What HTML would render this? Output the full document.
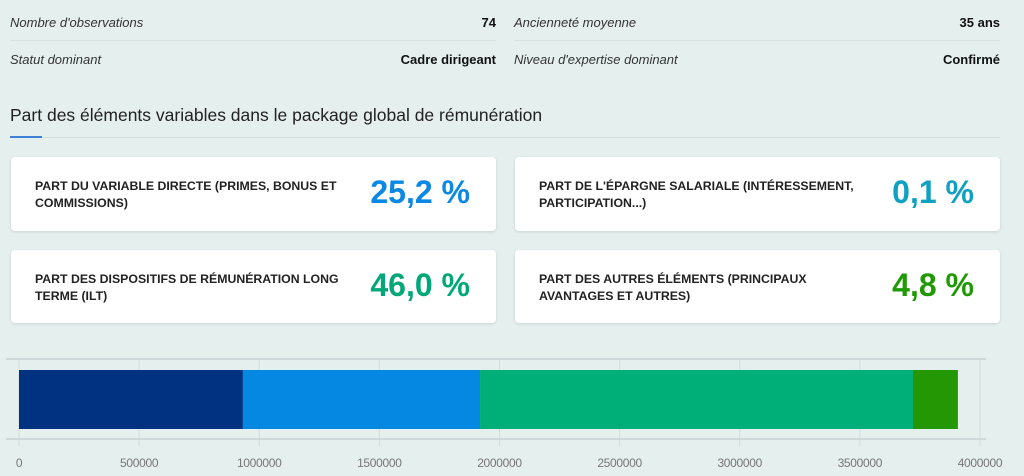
<!DOCTYPE html>
<html><head><meta charset="utf-8"><style>
body{margin:0;width:1024px;height:476px;background:#e5efee;font-family:"Liberation Sans",sans-serif;position:relative;overflow:hidden;color:#222}
.a{position:absolute}
.lab{font-style:italic;font-size:13px;color:#333}
.val{font-weight:bold;font-size:13px;color:#111;text-align:right}
.card{position:absolute;background:#fff;border-radius:4px;box-shadow:0 1px 3px rgba(0,0,0,.12)}
.ct{position:absolute;left:24px;font-weight:bold;font-size:12.3px;line-height:17px;color:#222}
.cv{position:absolute;right:26px;font-weight:bold;font-size:32px}
</style></head><body>
<div class="a lab" style="left:10px;top:15px">Nombre d'observations</div>
<div class="a val" style="left:300px;width:196px;top:15px">74</div>
<div class="a lab" style="left:514px;top:15px">Ancienneté moyenne</div>
<div class="a val" style="left:800px;width:200px;top:15px">35 ans</div>
<div class="a" style="left:10px;top:40px;width:486px;height:1px;background:#d8e2e1"></div>
<div class="a" style="left:514px;top:40px;width:486px;height:1px;background:#d8e2e1"></div>
<div class="a lab" style="left:10px;top:52px">Statut dominant</div>
<div class="a val" style="left:300px;width:196px;top:52px">Cadre dirigeant</div>
<div class="a lab" style="left:514px;top:52px">Niveau d'expertise dominant</div>
<div class="a val" style="left:800px;width:200px;top:52px">Confirmé</div>
<div class="a" style="left:10px;top:105px;font-size:17.5px;color:#222">Part des éléments variables dans le package global de rémunération</div>
<div class="a" style="left:10px;top:137px;width:990px;height:1px;background:#d6e0df"></div>
<div class="a" style="left:10px;top:136px;width:32px;height:2px;background:#3b7fd6"></div>

<div class="card" style="left:11px;top:157px;width:485px;height:74px">
<div class="ct" style="top:21px">PART DU VARIABLE DIRECTE (PRIMES, BONUS ET<br>COMMISSIONS)</div>
<div class="cv" style="top:17px;color:#0a88e3">25,2 %</div></div>
<div class="card" style="left:515px;top:157px;width:485px;height:74px">
<div class="ct" style="top:21px">PART DE L'ÉPARGNE SALARIALE (INTÉRESSEMENT,<br>PARTICIPATION...)</div>
<div class="cv" style="top:17px;color:#0fa0c2">0,1 %</div></div>
<div class="card" style="left:11px;top:250px;width:485px;height:73px">
<div class="ct" style="top:21px">PART DES DISPOSITIFS DE RÉMUNÉRATION LONG<br>TERME (ILT)</div>
<div class="cv" style="top:17px;color:#00a878">46,0 %</div></div>
<div class="card" style="left:515px;top:250px;width:485px;height:73px">
<div class="ct" style="top:21px">PART DES AUTRES ÉLÉMENTS (PRINCIPAUX<br>AVANTAGES ET AUTRES)</div>
<div class="cv" style="top:17px;color:#1f9a05">4,8 %</div></div>

<svg id="chart" class="a" style="left:0;top:350px" width="1024" height="126"></svg>
<script>
const categories=["Variable directe","Épargne salariale","ILT","Autres éléments"];
const seriesValues=[932000,987000,1802000,187000];
const seriesColors=["#003282","#0588e2","#00ae78","#239804"];
const tickValues=[0,500000,1000000,1500000,2000000,2500000,3000000,3500000,4000000];
const tickLabels=["0","500000","1000000","1500000","2000000","2500000","3000000","3500000","4000000"];
const svg=document.getElementById('chart');
const NS='http://www.w3.org/2000/svg';
const x0=19,x1=980,xMax=4000000;
const xs=v=>x0+(v/xMax)*(x1-x0);
function mk(t,a){const e=document.createElementNS(NS,t);for(const k in a)e.setAttribute(k,a[k]);svg.appendChild(e);return e;}
tickValues.forEach((v,i)=>{
  const g=mk('line',{x1:xs(v),x2:xs(v),y1:9,y2:96,stroke:'#d3dcdc','stroke-width':1});
  
  
  const t=mk('text',{x:xs(v),y:117,'text-anchor':'middle','font-size':12,fill:'#777','font-family':'Liberation Sans, sans-serif','letter-spacing':'-0.3'});
  t.textContent=tickLabels[i];
  
  
});
mk('line',{x1:6,x2:986,y1:9,y2:9,stroke:'#c8d2d2','stroke-width':1.5});
mk('line',{x1:6,x2:986,y1:89,y2:89,stroke:'#c8d2d2','stroke-width':1.5});
let cum=0;
seriesValues.forEach((v,i)=>{
  const r=mk('rect',{x:xs(cum),y:20,width:xs(cum+v)-xs(cum),height:59,fill:seriesColors[i]});
  
  
  cum+=v;
});
</script>
</body></html>
